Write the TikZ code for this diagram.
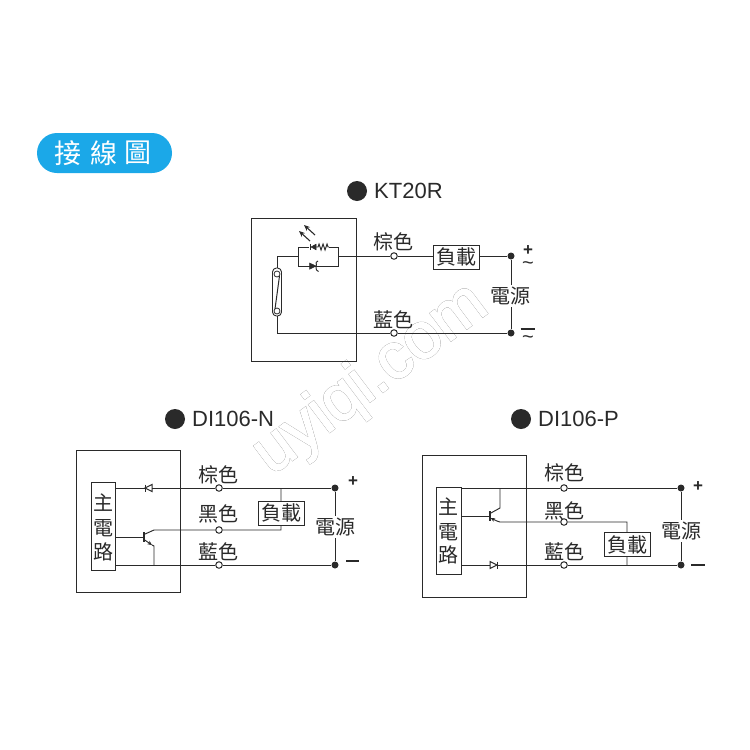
\documentclass[tikz,border=0pt]{standalone}
\usepackage{fontspec}
\setmainfont{Liberation Sans}
\newfontfamily\cjk{Noto Sans CJK TC}
\newfontfamily\wmout[FakeBold=2.6]{Liberation Sans}
\newfontfamily\wmin[FakeBold=2.0]{Liberation Sans}
\usetikzlibrary{arrows.meta}
\definecolor{ink}{HTML}{2A2A2A}
\definecolor{pill}{HTML}{1BA8E8}
\definecolor{wm}{HTML}{8C8C8C}
\tikzset{
  wire/.style={draw=ink,line width=0.95pt},
  boxline/.style={draw=ink,line width=1pt},
  zh/.style={text=ink,inner sep=0pt,font=\cjk\fontsize{20}{20}\selectfont},
  loadbox/.style={draw=ink,line width=1pt,fill=white,minimum width=46pt,minimum height=24pt,inner sep=0pt,text=ink,font=\cjk\fontsize{20}{20}\selectfont},
  term/.style={circle,draw=ink,line width=1pt,fill=white,minimum size=6.5pt,inner sep=0pt},
  junc/.style={circle,fill=ink,minimum size=7pt,inner sep=0pt},
  bullet/.style={circle,fill=ink,minimum size=20pt,inner sep=0pt},
  title/.style={anchor=west,text=ink,inner sep=0pt,font=\fontsize{22}{22}\selectfont},
  sym/.style={text=ink,inner sep=0pt,font=\bfseries\fontsize{17}{17}\selectfont},
  thickbar/.style={draw=ink,line width=2.2pt},
  tilde/.style={text=ink,inner sep=0pt,font=\fontsize{20}{20}\selectfont},
  tri/.style={fill=ink,draw=ink,line width=0.5pt},
  ray/.style={draw=ink,line width=1.1pt,-{Stealth[length=6pt,width=5pt]}},
  innerbox/.style={draw=ink,line width=1pt,fill=white,inner sep=0pt},
  wmtext/.style={rotate=37,inner sep=0pt},
  pilltext/.style={text=white,inner sep=0pt,font=\cjk\fontsize{27}{27}\selectfont},
}
\begin{document}
\begin{tikzpicture}[x=1pt,y=-1pt]
\useasboundingbox (0,0) rectangle (750,750);
\fill[white] (0,0) rectangle (750,750);
% watermark
\node[wmtext,text=wm,font=\wmout\fontsize{65}{65}\selectfont] (wmark) at (371,380) {uyiqi.com};
\node[wmtext,text=white,font=\wmin\fontsize{65}{65}\selectfont] (wmarkb) at (371,380) {uyiqi.com};
% pill
\node[fill=pill,rounded corners=20pt,minimum width=135pt,minimum height=40pt,inner sep=0pt] (pillbox) at (104.5,153) {};
\node[pilltext] (p1) at (68,153) {接};
\node[pilltext] (p2) at (104,153) {線};
\node[pilltext] (p3) at (138,153) {圖};

% ===== KT20R =====
\node[bullet] (b1) at (357,191) {};
\node[title] (t1) at (374,191) {KT20R};
\draw[boxline] (251,218) rectangle (356,361);
\coordinate (a1) at (277,256);
\coordinate (a2) at (298,256);
\coordinate (a3) at (298,247);
\coordinate (a4) at (338,247);
\coordinate (a5) at (338,266);
\coordinate (a6) at (298,266);
\coordinate (a7) at (338,256);
\coordinate (a8) at (277,333);
\node[term] (k1) at (394,256) {};
\node[term] (k2) at (394,333) {};
\node[junc] (k3) at (511,256) {};
\node[junc] (k4) at (511,333) {};
\draw[wire] (a7) -- (k1) -- (k3) -- (k4) -- (k2) -- (a8) -- (277,316);
\node[loadbox] (kl) at (456,257) {負載};
\node[zh,fill=white,inner ysep=2pt] (kp) at (510,296) {電源};
\draw[wire] (277,268) -- (a1) -- (a2) -- (a3) -- (a4) -- (a5) -- (a6) -- (a2);
% reed
\draw[draw=ink,line width=0.9pt,rounded corners=4pt] (272.5,268) rectangle (281.5,316);
\draw[draw=ink,line width=0.8pt] (277,274) circle (3) (277,311) circle (3);
\draw[draw=ink,line width=1pt] (275,309) -- (279.5,276);
% led + resistor
\fill[white] (308,244) rectangle (329,250);
\draw[wire] (308,247) -- (309,247);
\draw[tri] (316,244.2) -- (316,249.8) -- (311,247) -- cycle;
\draw[wire] (310.5,243.8) -- (310.5,250.2);
\draw[wire] (316,247) -- (318,247) -- (319,244) -- (321,250) -- (323,244) -- (325,250) -- (327,244) -- (328,247) -- (329,247);
% lower diode
\draw[tri] (309.5,263) -- (309.5,269.3) -- (316,266) -- cycle;
\draw[wire] (316,262.5) .. controls (317,264) and (315.5,268) .. (316.5,270);
\draw[wire] (316,262.5) -- (318,261);
\draw[wire] (316.5,270) -- (318.5,271.5);
% rays
\draw[ray] (310,241) -- (299,231);
\draw[ray] (315,235) -- (304,225);
% labels
\node[zh] (kb) at (393,242) {棕色};
\node[zh] (kn) at (393,320) {藍色};
\node[sym] (kplus) at (528,251) {+};
\node[tilde] (kt1) at (528,266) {\textasciitilde};
\draw[thickbar] (520.5,329) -- (534.5,329);
\node[tilde] (kt2) at (528,340) {\textasciitilde};

% ===== DI106-N =====
\node[bullet] (b2) at (175,419) {};
\node[title] (t2) at (192,419) {DI106-N};
\draw[boxline] (76,450) rectangle (180,592);
\node[innerbox,minimum width=24pt,minimum height=88pt] (n0) at (103,526) {};
\coordinate (ns1) at (115,488);
\coordinate (ns3) at (115,565);
\coordinate (nb) at (115,537);
\coordinate (nq) at (144,537);
\node[term] (n1) at (219,488) {};
\node[term] (n2) at (219,530) {};
\node[term] (n3) at (219,565) {};
\node[junc] (n4) at (335,488) {};
\node[junc] (n5) at (335,565) {};
\coordinate (nj1) at (281,488);
\coordinate (nj2) at (281,530);
\draw[wire] (ns1) -- (n1) -- (n4) -- (n5) -- (n3) -- (ns3);
\draw[wire] (nj1) -- (nj2) -- (n2) -- (154,530) -- (144,534.5);
\node[loadbox] (nl) at (281,513) {負載};
\node[zh,fill=white,inner ysep=2pt] (np) at (335,527) {電源};
\draw[wire] (nb) -- (nq);
\draw[draw=ink,line width=1.3pt] (144,532) -- (144,542);
\draw[wire,-{Stealth[length=4.5pt,width=4pt]}] (144,539.5) -- (152,545);
\draw[wire] (152,545) -- (154,546) -- (154,565);
\fill[white] (145,484.5) rectangle (152,491.5);
\draw[draw=ink,line width=1pt] (145,488) -- (152,484.5) -- (152,491.5) -- cycle;
\draw[draw=ink,line width=1pt] (145,484.5) -- (145,491.5);
\node[zh] (nbr) at (218,475) {棕色};
\node[zh] (nk) at (218,514) {黑色};
\node[zh] (nn) at (218,552) {藍色};
\node[zh] (nz1) at (103,503) {主};
\node[zh] (nz2) at (103,528) {電};
\node[zh] (nz3) at (103,552) {路};
\node[sym] (nplus) at (353,482) {+};
\draw[thickbar] (346,561) -- (359,561);

% ===== DI106-P =====
\node[bullet] (b3) at (521,419) {};
\node[title] (t3) at (538,419) {DI106-P};
\draw[boxline] (422,455) rectangle (526,597);
\node[innerbox,minimum width=25pt,minimum height=87pt] (p0) at (448.5,530.5) {};
\coordinate (ps1) at (461,488);
\coordinate (ps3) at (461,565);
\coordinate (pb) at (461,516);
\coordinate (pq) at (490,516);
\node[term] (q1) at (564,488) {};
\node[term] (q2) at (564,522) {};
\node[term] (q3) at (564,565) {};
\node[junc] (q4) at (681,488) {};
\node[junc] (q5) at (681,565) {};
\coordinate (qj1) at (627,522);
\coordinate (qj2) at (627,565);
\draw[wire] (ps1) -- (q1) -- (q4) -- (q5) -- (q3) -- (ps3);
\draw[wire] (qj2) -- (qj1) -- (q2) -- (500,522) -- (497,521);
\node[loadbox] (ql) at (627,544.5) {負載};
\node[zh,fill=white,inner ysep=2pt] (qp) at (681,531) {電源};
\draw[wire] (pb) -- (pq);
\draw[draw=ink,line width=1.3pt] (490,511) -- (490,521);
\draw[wire] (490,513.5) -- (500,508) -- (500,488);
\draw[wire,{Stealth[length=4.5pt,width=4pt]}-] (490.5,518) -- (497,521);
\fill[white] (490,561.5) rectangle (497,568.5);
\draw[draw=ink,line width=1pt] (497,565) -- (490,561.5) -- (490,568.5) -- cycle;
\draw[draw=ink,line width=1pt] (497,561.5) -- (497,568.5);
\node[zh] (qb) at (564,473) {棕色};
\node[zh] (qk) at (564,511) {黑色};
\node[zh] (qn) at (564,552) {藍色};
\node[zh] (qz1) at (448,507) {主};
\node[zh] (qz2) at (448,532) {電};
\node[zh] (qz3) at (448,555) {路};
\node[sym] (qplus) at (698,487) {+};
\draw[thickbar] (691,565) -- (705,565);
\end{tikzpicture}
\end{document}
